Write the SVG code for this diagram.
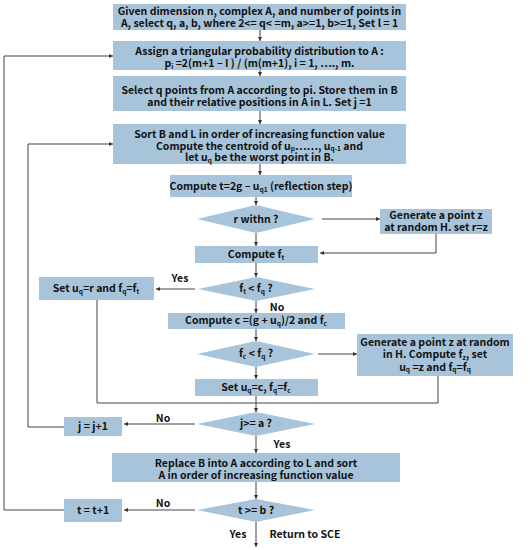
<svg xmlns="http://www.w3.org/2000/svg" width="530" height="550" viewBox="0 0 530 550">
<defs>
<marker id="ah" viewBox="0 0 6 6" refX="6" refY="3" markerWidth="4" markerHeight="4" orient="auto"><path d="M0,0 L6,3 L0,6 z" fill="#333"/></marker>
<style>
.b{fill:#A8C4DA}
text{font-family:"Noto Sans CJK KR","Noto Sans",sans-serif;font-weight:bold;font-size:10.5px;fill:#111;text-anchor:middle}
.l{fill:none;stroke:#444;stroke-width:1}
.a{fill:none;stroke:#444;stroke-width:1;marker-end:url(#ah)}
.s{font-size:6.5px}
</style>
</defs>
<rect width="530" height="550" fill="#fff"/>
<g id="n1"><rect class="b" x="113" y="4" width="293" height="26"/><text x="259.5" y="15">Given dimension n, complex A, and number of points in</text><text x="259.5" y="27">A, select q, a, b, where 2&lt;= q&lt; =m, a&gt;=1, b&gt;=1, Set l = 1</text></g>
<g id="n2"><rect class="b" x="113" y="41" width="293" height="29"/><text x="259.5" y="55">Assign a triangular probability distribution to A :</text><text x="259.5" y="67">p<tspan class="s" dy="1.5">i</tspan><tspan dy="-1.5"> =2(m+1 – I ) / (m(m+1), i = 1, …., m.</tspan></text></g>
<g id="n3"><rect class="b" x="113" y="76" width="293" height="35"/><text x="259.5" y="94">Select q points from A according to pi. Store them in B</text><text x="259.5" y="106">and their relative positions in A in L. Set j =1</text></g>
<g id="n4"><rect class="b" x="113" y="124" width="293" height="40"/><text x="259.5" y="137.5">Sort B and L in order of increasing function value</text><text x="259.5" y="149.5">Compute the centroid of u<tspan class="s" dy="1.5">p</tspan><tspan dy="-1.5">……, u</tspan><tspan class="s" dy="1.5">q-1</tspan><tspan dy="-1.5"> and</tspan></text><text x="259.5" y="161">let u<tspan class="s" dy="1.5">q</tspan><tspan dy="-1.5"> be the worst point in B.</tspan></text></g>
<g id="n5"><rect class="b" x="170" y="175" width="182" height="22"/><text x="261" y="190">Compute t=2g – u<tspan class="s" dy="1.5">q1</tspan><tspan dy="-1.5"> (reflection step)</tspan></text></g>
<g id="n6"><polygon class="b" points="197,219 256,205 315,219 256,233"/><text x="256" y="223">r withn ?</text></g>
<g id="n7"><rect class="b" x="380" y="209" width="112" height="25"/><text x="436" y="219">Generate a point z</text><text x="436" y="231">at random H. set r=z</text></g>
<g id="n8"><rect class="b" x="195" y="246" width="123" height="17"/><text x="256" y="258">Compute f<tspan class="s" dy="1.5">t</tspan></text></g>
<g id="n9"><polygon class="b" points="198,289 256,277 315,289 256,301"/><text x="256" y="292">f<tspan class="s" dy="1.5">t</tspan><tspan dy="-1.5"> &lt; f</tspan><tspan class="s" dy="1.5">q</tspan><tspan dy="-1.5"> ?</tspan></text></g>
<g id="n10"><rect class="b" x="39" y="277" width="115" height="23"/><text x="96" y="292">Set u<tspan class="s" dy="1.5">q</tspan><tspan dy="-1.5">=r and f</tspan><tspan class="s" dy="1.5">q</tspan><tspan dy="-1.5">=f</tspan><tspan class="s" dy="1.5">t</tspan></text></g>
<g id="n11"><rect class="b" x="168" y="313" width="177" height="16"/><text x="256" y="324">Compute c =(g + u<tspan class="s" dy="1.5">q</tspan><tspan dy="-1.5">)/2 and f</tspan><tspan class="s" dy="1.5">c</tspan></text></g>
<g id="n12"><polygon class="b" points="197,354 256,341 315,354 256,367"/><text x="256" y="357">f<tspan class="s" dy="1.5">c</tspan><tspan dy="-1.5"> &lt; f</tspan><tspan class="s" dy="1.5">q</tspan><tspan dy="-1.5"> ?</tspan></text></g>
<g id="n13"><rect class="b" x="357" y="334" width="156" height="42"/><text x="435" y="345.5">Generate a point z at random</text><text x="435" y="358">in H. Compute f<tspan class="s" dy="1.5">z</tspan><tspan dy="-1.5">, set</tspan></text><text x="435" y="370.5">u<tspan class="s" dy="1.5">q</tspan><tspan dy="-1.5"> =z and f</tspan><tspan class="s" dy="1.5">q</tspan><tspan dy="-1.5">=f</tspan><tspan class="s" dy="1.5">q</tspan></text></g>
<g id="n14"><rect class="b" x="195" y="379" width="123" height="17"/><text x="256" y="391">Set u<tspan class="s" dy="1.5">q</tspan><tspan dy="-1.5">=c, f</tspan><tspan class="s" dy="1.5">q</tspan><tspan dy="-1.5">=f</tspan><tspan class="s" dy="1.5">c</tspan></text></g>
<g id="n15"><polygon class="b" points="197,424 256,412 315,424 256,436"/><text x="256" y="427">j&gt;= a ?</text></g>
<g id="n16"><rect class="b" x="64" y="417" width="58" height="19"/><text x="93" y="430">j = j+1</text></g>
<g id="n17"><rect class="b" x="112" y="453" width="288" height="29"/><text x="256" y="467">Replace B into A according to L and sort</text><text x="256" y="479">A in order of increasing function value</text></g>
<g id="n18"><polygon class="b" points="197,510 256,499 315,510 256,522"/><text x="256" y="514">t &gt;= b ?</text></g>
<g id="n19"><rect class="b" x="64" y="499" width="58" height="23"/><text x="93" y="514">t = t+1</text></g>
<g id="connectors">
<line class="a" x1="260" y1="30" x2="260" y2="41"/>
<line class="a" x1="260" y1="70" x2="260" y2="76"/>
<line class="a" x1="260" y1="111" x2="260" y2="124"/>
<line class="a" x1="260" y1="164" x2="260" y2="175"/>
<line class="a" x1="256" y1="197" x2="256" y2="205"/>
<line class="a" x1="322" y1="219" x2="380" y2="219"/>
<line class="a" x1="256" y1="233" x2="256" y2="246"/>
<polyline class="a" points="436,234 436,253 320,253"/>
<line class="a" x1="256" y1="263" x2="256" y2="277"/>
<line class="a" x1="195" y1="289" x2="156" y2="289"/>
<line class="a" x1="256" y1="301" x2="256" y2="313"/>
<line class="a" x1="256" y1="329" x2="256" y2="341"/>
<line class="a" x1="318" y1="354" x2="357" y2="354"/>
<line class="a" x1="256" y1="367" x2="256" y2="379"/>
<polyline class="l" points="97,300 97,403 438,403 438,376"/>
<line class="a" x1="256" y1="396" x2="256" y2="412"/>
<line class="a" x1="195" y1="424" x2="124" y2="424"/>
<polyline class="a" points="64,427 28,427 28,144 113,144"/>
<line class="a" x1="256" y1="436" x2="256" y2="453"/>
<line class="a" x1="256" y1="482" x2="256" y2="499"/>
<line class="a" x1="195" y1="510" x2="124" y2="510"/>
<polyline class="a" points="64,510 4,510 4,56 113,56"/>
<line class="a" x1="256" y1="522" x2="256" y2="547"/>
</g>
<g id="labels">
<text x="180" y="282">Yes</text>
<text x="277" y="311">No</text>
<text x="163" y="422">No</text>
<text x="282" y="448">Yes</text>
<text x="163" y="507">No</text>
<text x="238" y="538">Yes</text>
<text x="305" y="538">Return to SCE</text>
</g>
</svg>
